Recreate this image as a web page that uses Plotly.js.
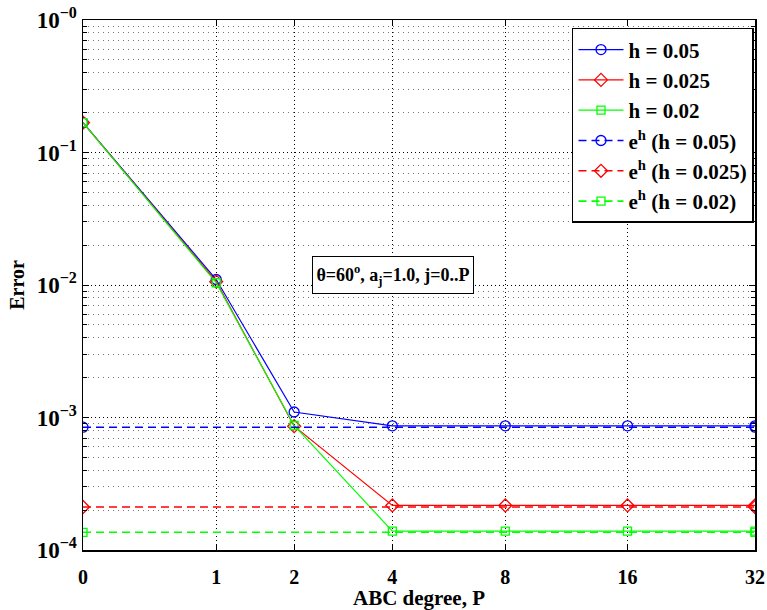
<!DOCTYPE html>
<html>
<head>
<meta charset="utf-8">
<script src="https://cdn.plot.ly/plotly-3.0.1.min.js"></script>
<style>html,body{margin:0;padding:0;background:#fff;}#chart{width:767px;height:610px;}</style>
</head>
<body>
<div id="chart"></div>
<script>
// ABC degree P (categories)
var degrees = [0, 1, 2, 4, 8, 16, 32];
var degreeLabels = ['0', '1', '2', '4', '8', '16', '32'];
// Error series
var err_h005  = [0.168, 0.0110, 0.00110, 0.000865, 0.000865, 0.000865, 0.000865];
var err_h0025 = [0.168, 0.0106, 0.00086, 0.000217, 0.000217, 0.000217, 0.000217];
var err_h002  = [0.168, 0.0104, 0.00087, 0.000139, 0.000139, 0.000139, 0.000139];
// Discretisation error e^h (constant reference lines)
var ehDegrees = [0, 32];
var eh_h005  = [0.000845, 0.000845];
var eh_h0025 = [0.000211, 0.000211];
var eh_h002  = [0.000136, 0.000136];
var yTickVals = [1, 0.1, 0.01, 0.001, 0.0001];
var yTickText = ['10<sup>\u22120</sup>', '10<sup>\u22121</sup>', '10<sup>\u22122</sup>', '10<sup>\u22123</sup>', '10<sup>\u22124</sup>'];

// the x axis in the original is log(P+1)
function pos(arr) { return arr.map(function (p) { return p + 1; }); }

var FONT = 'Liberation Serif, Times New Roman, serif';
var BLUE = '#0000ff', RED = '#ff0000', GREEN = '#00ff00';

function solid(y, name, color, symbol) {
  return {x: pos(degrees), y: y, name: name, type: 'scatter', mode: 'lines+markers',
    line: {color: color, width: 1.2},
    marker: {symbol: symbol, size: symbol === 'square-open' ? 8 : 10, color: color, line: {color: color, width: 1.3}}};
}
function dashed(y, name, color, symbol) {
  return {x: pos(ehDegrees), y: y, name: name, type: 'scatter', mode: 'lines+markers',
    line: {color: color, width: 1.6, dash: '8px,5px'},
    marker: {symbol: symbol, size: symbol === 'square-open' ? 8 : 10, color: color, line: {color: color, width: 1.3}}};
}

var traces = [
  solid(err_h005, 'h = 0.05', BLUE, 'circle-open'),
  solid(err_h0025, 'h = 0.025', RED, 'diamond-open'),
  solid(err_h002, 'h = 0.02', GREEN, 'square-open'),
  dashed(eh_h005, 'e<sup>h</sup> (h = 0.05)', BLUE, 'circle-open'),
  dashed(eh_h0025, 'e<sup>h</sup> (h = 0.025)', RED, 'diamond-open'),
  dashed(eh_h002, 'e<sup>h</sup> (h = 0.02)', GREEN, 'square-open')
];

// minor grid positions for the log y axis (2..9 in each decade)
var minorVals = [];
for (var e = -4; e < 0; e++) {
  for (var d = 2; d <= 9; d++) minorVals.push(d * Math.pow(10, e));
}

var layout = {
  width: 767, height: 610,
  margin: {l: 83, r: 12, t: 20, b: 60},
  paper_bgcolor: '#fff', plot_bgcolor: '#fff',
  font: {family: FONT, size: 20, color: '#000', weight: 'bold'},
  showlegend: true,
  xaxis: {
    type: 'log', range: [0, Math.log10(33)],
    tickmode: 'array', tickvals: pos(degrees), ticktext: degreeLabels,
    tickfont: {family: FONT, size: 20, weight: 'bold'},
    ticks: 'inside', ticklen: 6, tickcolor: '#000', tickwidth: 1,
    ticklabelstandoff: 8,
    showline: true, linecolor: '#000', linewidth: 1.5, mirror: 'ticks',
    showgrid: true, gridcolor: '#000', gridwidth: 1, griddash: '1px,3px',
    zeroline: false,
    title: {text: 'ABC degree, P', font: {family: FONT, size: 21, weight: 'bold'}, standoff: 6}
  },
  yaxis: {
    type: 'log', range: [-4, 0],
    tickmode: 'array', tickvals: yTickVals, ticktext: yTickText,
    tickfont: {family: FONT, size: 23, weight: 'bold'},
    ticks: 'inside', ticklen: 6, tickcolor: '#000', tickwidth: 1,
    showline: true, linecolor: '#000', linewidth: 1.5, mirror: 'ticks',
    showgrid: true, gridcolor: '#000', gridwidth: 1, griddash: '1px,3px',
    minor: {tickmode: 'array', tickvals: minorVals, ticks: 'inside', ticklen: 4, tickcolor: '#000',
      showgrid: true, gridcolor: '#777', gridwidth: 1, griddash: '1px,4px'},
    zeroline: false,
    title: {text: 'Error', font: {family: FONT, size: 20, weight: 'bold'}, standoff: 6}
  },
  legend: {
    x: 0.9985, xanchor: 'right', y: 0.985, yanchor: 'top',
    bgcolor: '#fff', bordercolor: '#000', borderwidth: 1.5,
    font: {family: FONT, size: 21, weight: 'bold'},
    tracegroupgap: 0, itemwidth: 45
  },
  annotations: [{
    xref: 'paper', yref: 'paper', x: 0.461, y: 0.518, xanchor: 'center', yanchor: 'middle',
    text: '\u03b8=60<sup>o</sup>, a<sub>j</sub>=1.0, j=0..P', showarrow: false,
    font: {family: FONT, size: 18, weight: 'bold', color: '#000'},
    width: 156, height: 32,
    bgcolor: '#fff', bordercolor: '#000', borderwidth: 1, borderpad: 2
  }]
};

Plotly.newPlot('chart', traces, layout, {displayModeBar: false, staticPlot: true});
</script>
</body>
</html>
